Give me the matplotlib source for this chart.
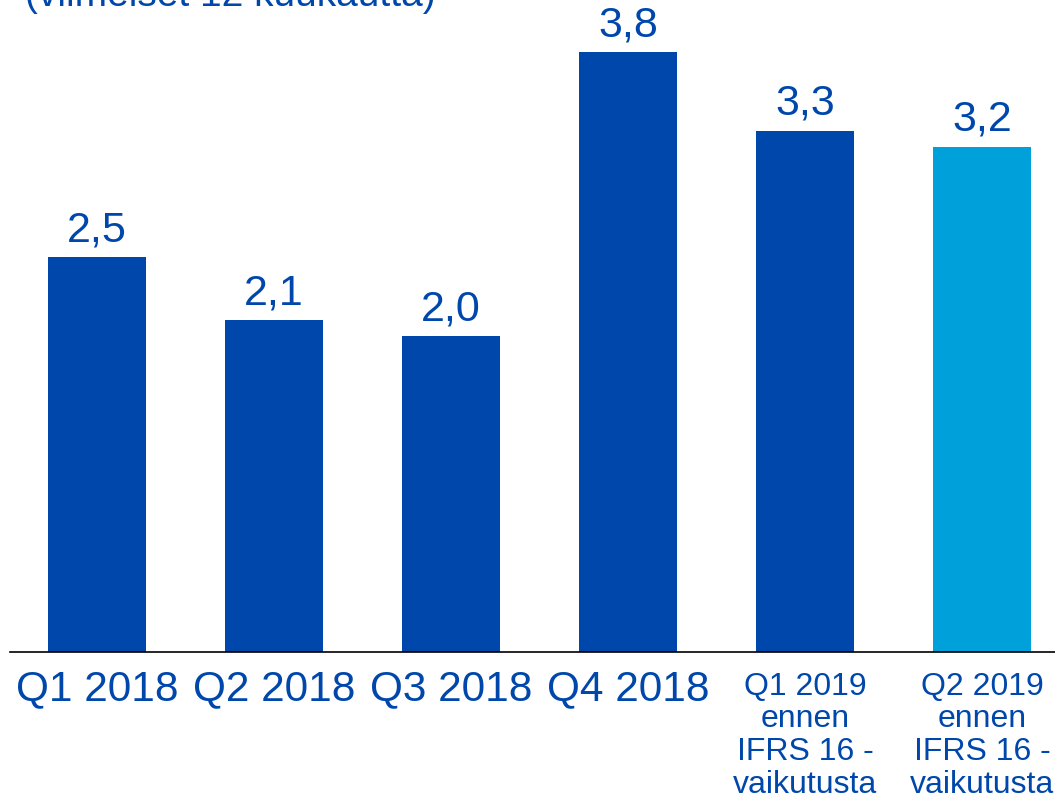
import matplotlib.pyplot as plt
import matplotlib.transforms as mtransforms

plt.rcParams['font.family'] = ['Liberation Sans', 'DejaVu Sans']

labels = ['Q1 2018', 'Q2 2018', 'Q3 2018', 'Q4 2018',
          'Q1 2019\nennen\nIFRS 16 -\nvaikutusta',
          'Q2 2019\nennen\nIFRS 16 -\nvaikutusta']
values = [2.5, 2.1, 2.0, 3.8, 3.3, 3.2]
value_texts = ['2,5', '2,1', '2,0', '3,8', '3,3', '3,2']
title = '(viimeiset 12 kuukautta)'

dark = '#0047AB'
light = '#00A0DA'
colors = [dark] * 5 + [light]

fig = plt.figure(figsize=(10.55, 8.02), dpi=100)
ax = fig.add_axes([10 / 1055, 150 / 802, 1045 / 1055, 652 / 802])

x = list(range(len(values)))
ax.bar(x, values, width=0.554, color=colors)
ax.set_xlim(-0.4915, 5.412)
ax.set_ylim(0, 4.129)

for xi, v, t in zip(x, values, value_texts):
    ax.annotate(t, (xi, v), xytext=(0, 5), textcoords='offset points',
                ha='center', va='bottom', fontsize=31, color=dark)

trans = mtransforms.blended_transform_factory(ax.transData, ax.transAxes)
for xi, lab in zip(x, labels):
    if '\n' in lab:
        ax.text(xi, -0.03, lab, transform=trans, ha='center', va='top',
                fontsize=23, color=dark, linespacing=1.12)
    else:
        ax.text(xi, -0.027, lab, transform=trans, ha='center', va='top',
                fontsize=30.5, color=dark)

for s in ['top', 'right', 'left']:
    ax.spines[s].set_visible(False)
ax.spines['bottom'].set_color('black')
ax.spines['bottom'].set_linewidth(1.2)
ax.set_xticks([])
ax.set_yticks([])

fig.text(25 / 1055, 1 - 6 / 802, title, ha='left', va='baseline',
         fontsize=28, color=dark)

fig.savefig('out.png', dpi=100)
